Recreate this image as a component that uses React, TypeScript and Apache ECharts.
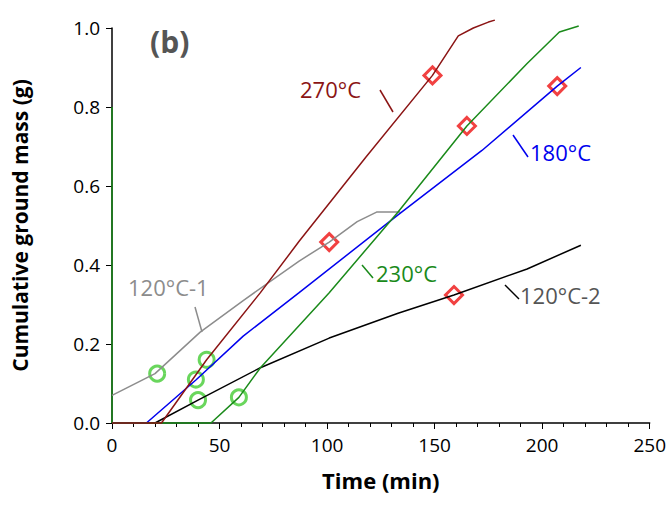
import React, { useEffect, useRef } from 'react';
import * as echarts from 'echarts';

const s270 = [[0, 0], [23, 0], [44, 0.16], [69, 0.33], [87, 0.46], [118, 0.673], [149, 0.88], [161, 0.98], [168, 1.0], [175, 1.015], [178, 1.02]];
const s230 = [[0, 0], [46, 0], [59, 0.065], [69, 0.14], [101, 0.33], [133, 0.534], [165, 0.752], [193, 0.91], [208, 0.99], [217, 1.005]];
const s180 = [[0, 0], [16, 0], [39, 0.109], [61, 0.22], [87, 0.33], [133, 0.527], [172, 0.69], [207, 0.853], [218, 0.9]];
const s120a = [[0, 0.07], [20, 0.125], [41, 0.23], [61, 0.31], [87, 0.41], [101, 0.458], [114, 0.51], [123, 0.534], [134, 0.534]];
const s120b = [[0, 0], [20, 0], [40, 0.058], [69, 0.14], [101, 0.215], [133, 0.278], [159, 0.324], [193, 0.39], [218, 0.45]];
const vline = [[0, 0], [0, 0.8]];
const circles = [[21, 0.125], [39, 0.11], [40, 0.058], [44, 0.16], [59, 0.065]];
const diamonds = [[101, 0.458], [149, 0.88], [165, 0.752], [207, 0.853], [159, 0.324]];

const F = 'Open Sans, sans-serif';

const App: React.FC = () => {
  const ref = useRef<HTMLDivElement>(null);
  useEffect(() => {
    if (!ref.current) return;
    const chart = echarts.init(ref.current, null, { renderer: 'svg' });
    const line = (data: number[][], color: string) => ({
      type: 'line', data, showSymbol: false, clip: false, lineStyle: { color, width: 1.5 }, silent: true,
    });
    const label = (x: number, y: number, text: string, color: string) => ({
      type: 'text', left: x, top: y, style: { text, fill: color, font: `22px ${F}` },
    });
    const lead = (x1: number, y1: number, x2: number, y2: number, color: string) => ({
      type: 'line', shape: { x1, y1, x2, y2 }, style: { stroke: color, lineWidth: 1.5 },
    });
    chart.setOption({
      animation: false,
      grid: { left: 112, right: 17, top: 28, bottom: 90 },
      xAxis: {
        type: 'value', min: 0, max: 250, interval: 50,
        name: 'Time (min)', nameLocation: 'middle', nameGap: 46,
        nameTextStyle: { fontFamily: F, fontWeight: 'bold', fontSize: 22, color: '#000' },
        axisLine: { lineStyle: { color: '#000', width: 1.5 } },
        axisTick: { length: 6, lineStyle: { color: '#000' } },
        minorTick: { show: true, splitNumber: 5, length: 4, lineStyle: { color: '#000' } },
        axisLabel: { fontFamily: F, fontSize: 19, color: '#000', margin: 12 },
        splitLine: { show: false },
      },
      yAxis: {
        type: 'value', min: 0, max: 1, interval: 0.2,
        name: 'Cumulative ground mass (g)', nameLocation: 'middle', nameGap: 82,
        nameTextStyle: { fontFamily: F, fontWeight: 'bold', fontSize: 21, color: '#000' },
        axisLine: { show: true, lineStyle: { color: '#000', width: 1.5 } },
        axisTick: { show: true, length: 6, lineStyle: { color: '#000' } },
        axisLabel: { fontFamily: F, fontSize: 19, color: '#000', margin: 12, formatter: (v: number) => v.toFixed(1) },
        splitLine: { show: false },
      },
      series: [
        line(vline, '#1a8a1a'),
        line(s120a, '#8c8c8c'),
        line(s120b, '#000000'),
        line(s180, '#0000ee'),
        line(s230, '#1a8a1a'),
        line(s270, '#8b1414'),
        {
          type: 'scatter', data: circles, symbol: 'circle', symbolSize: 15,
          itemStyle: { color: 'transparent', borderColor: '#44cc33', borderWidth: 3 },
        },
        {
          type: 'scatter', data: diamonds, symbol: 'diamond', symbolSize: 17,
          itemStyle: { color: '#fff', borderColor: '#ee1111', borderWidth: 3 },
        },
      ],
      graphic: [
        { type: 'text', left: 150, top: 26, style: { text: '(b)', fill: '#555', font: `bold 30px ${F}` } },
        label(300, 78, '270°C', '#8b1414'),
        lead(380, 90, 393, 112, '#8b1414'),
        label(530, 141, '180°C', '#0000ee'),
        lead(513, 135, 528, 157, '#0000ee'),
        label(376, 262, '230°C', '#1a8a1a'),
        lead(362, 265, 373, 278, '#1a8a1a'),
        label(128, 276, '120°C-1', '#8c8c8c'),
        lead(195, 307, 202, 332, '#8c8c8c'),
        label(520, 284, '120°C-2', '#555'),
        lead(505, 285, 519, 299, '#000'),
      ],
    });
    return () => chart.dispose();
  }, []);
  return <div ref={ref} style={{ width: 669, height: 513, position: 'absolute', left: 0, top: 0 }} />;
};

export default App;
